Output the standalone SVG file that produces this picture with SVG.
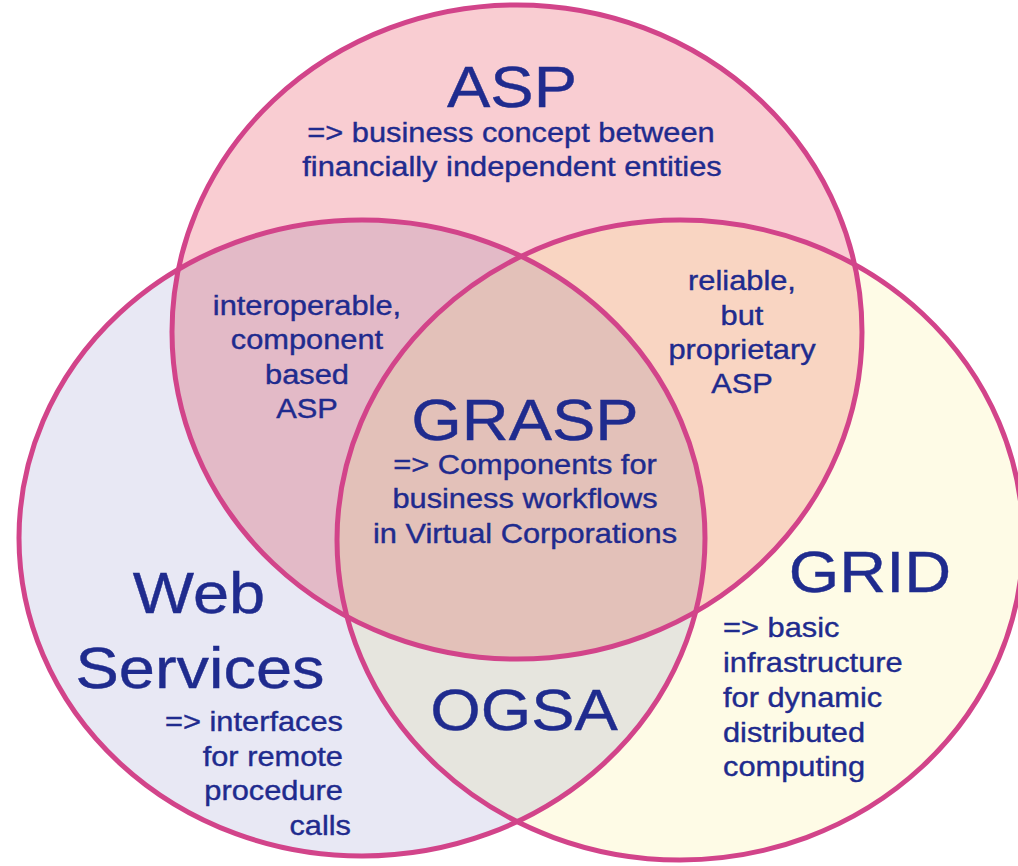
<svg xmlns="http://www.w3.org/2000/svg" width="1018" height="866" viewBox="0 0 1018 866">
  <style>
    .ring { fill: none; stroke: #d2448a; stroke-width: 5; }
    .t { font-family: "Liberation Sans", Arial, sans-serif; fill: #1f2b8e; stroke: #1f2b8e; stroke-width: 0.4; }
    .title { font-size: 58px; }
    .body { font-size: 27.5px; }
    .mid { text-anchor: middle; }
    .end { text-anchor: end; }
  </style>
  <defs>
    <ellipse id="eA" cx="517" cy="332" rx="345" ry="327"/>
    <ellipse id="eW" cx="362" cy="538" rx="343" ry="318"/>
    <ellipse id="eG" cx="680" cy="540" rx="343" ry="320"/>
    <clipPath id="cA"><use href="#eA"/></clipPath>
    <clipPath id="cW"><use href="#eW"/></clipPath>
  </defs>
  <rect width="1018" height="866" fill="#ffffff"/>
  <g id="regions">
    <use href="#eW" fill="#e8e8f4"/>
    <use href="#eG" fill="#fefbe6"/>
    <use href="#eA" fill="#f9cdd2"/>
    <use href="#eW" fill="#e3bac7" clip-path="url(#cA)"/>
    <use href="#eG" fill="#f9d5c2" clip-path="url(#cA)"/>
    <use href="#eG" fill="#e6e5de" clip-path="url(#cW)"/>
    <g clip-path="url(#cA)"><use href="#eG" fill="#e3c1b9" clip-path="url(#cW)"/></g>
  </g>
  <g id="asp">
    <use href="#eA" class="ring"/>
    <text class="t title mid" transform="translate(512 107) scale(1.12 1)">ASP</text>
    <text class="t body mid" transform="translate(511 142) scale(1.12 1)">=&gt; business concept between</text>
    <text class="t body mid" transform="translate(512 176) scale(1.12 1)">financially independent entities</text>
  </g>
  <g id="web-services">
    <use href="#eW" class="ring"/>
    <text class="t title mid" transform="translate(199 613) scale(1.12 1)">Web</text>
    <text class="t title mid" transform="translate(200 688) scale(1.12 1)">Services</text>
    <text class="t body end" transform="translate(343 731) scale(1.12 1)">=&gt; interfaces</text>
    <text class="t body end" transform="translate(343 766) scale(1.12 1)">for remote</text>
    <text class="t body end" transform="translate(343 800) scale(1.12 1)">procedure</text>
    <text class="t body end" transform="translate(351 835) scale(1.12 1)">calls</text>
  </g>
  <g id="grid">
    <use href="#eG" class="ring"/>
    <text class="t title mid" transform="translate(870 592) scale(1.12 1)">GRID</text>
    <text class="t body" transform="translate(723 637) scale(1.12 1)">=&gt; basic</text>
    <text class="t body" transform="translate(723 672) scale(1.12 1)">infrastructure</text>
    <text class="t body" transform="translate(723 707) scale(1.12 1)">for dynamic</text>
    <text class="t body" transform="translate(723 742) scale(1.12 1)">distributed</text>
    <text class="t body" transform="translate(723 776) scale(1.12 1)">computing</text>
  </g>
  <g id="asp-web">
    <text class="t body mid" transform="translate(307 315) scale(1.12 1)">interoperable,</text>
    <text class="t body mid" transform="translate(307 349) scale(1.12 1)">component</text>
    <text class="t body mid" transform="translate(307 384) scale(1.12 1)">based</text>
    <text class="t body mid" transform="translate(307 418) scale(1.12 1)">ASP</text>
  </g>
  <g id="asp-grid">
    <text class="t body mid" transform="translate(742 290) scale(1.12 1)">reliable,</text>
    <text class="t body mid" transform="translate(742 325) scale(1.12 1)">but</text>
    <text class="t body mid" transform="translate(742 359) scale(1.12 1)">proprietary</text>
    <text class="t body mid" transform="translate(742 393) scale(1.12 1)">ASP</text>
  </g>
  <g id="grasp">
    <text class="t title mid" transform="translate(525 440) scale(1.12 1)">GRASP</text>
    <text class="t body mid" transform="translate(525 474) scale(1.12 1)">=&gt; Components for</text>
    <text class="t body mid" transform="translate(525 508) scale(1.12 1)">business workflows</text>
    <text class="t body mid" transform="translate(525 543) scale(1.12 1)">in Virtual Corporations</text>
  </g>
  <g id="ogsa">
    <text class="t title mid" transform="translate(524 730) scale(1.12 1)">OGSA</text>
  </g>
  <g id="connectors"/>
</svg>
